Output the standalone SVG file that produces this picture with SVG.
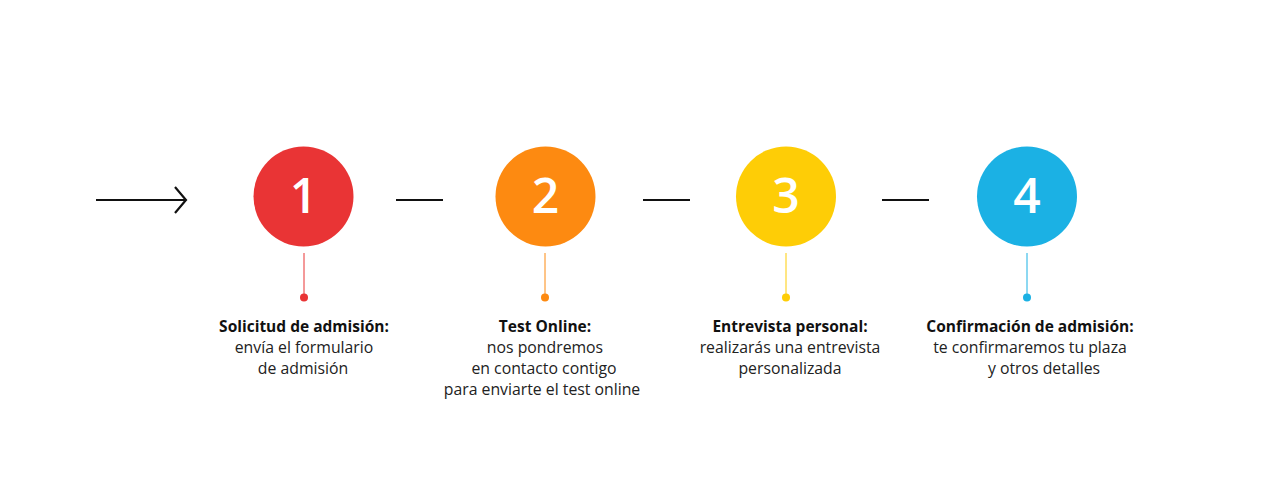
<svg xmlns="http://www.w3.org/2000/svg" width="1270" height="485" viewBox="0 0 1270 485">
<style>
.num{font-family:"Open Sans","Liberation Sans",sans-serif;font-weight:600;font-size:48px;fill:#fff;text-anchor:middle}
.t{font-family:"Open Sans","Liberation Sans",sans-serif;font-size:15.8px;fill:#222;text-anchor:middle}
.b{font-weight:700;font-size:15.5px;fill:#111}
.conn{stroke:#111;stroke-width:2.2;fill:none}
</style>
<rect width="1270" height="485" fill="#fff"/>
<g id="connectors">
<line class="conn" x1="96" y1="200" x2="186" y2="200"/>
<polyline class="conn" points="175,187 186,200 175,213" stroke-width="3.6"/>
<line class="conn" x1="396" y1="200" x2="443" y2="200"/>
<line class="conn" x1="643" y1="200" x2="690" y2="200"/>
<line class="conn" x1="882" y1="200" x2="929" y2="200"/>
</g>
<g id="step1">
<circle cx="303.5" cy="196.5" r="50" fill="#E93435"/>
<text class="num" x="303.5" y="213">1</text>
<line x1="304" y1="253" x2="304" y2="297" stroke="#E93435" stroke-width="1"/>
<circle cx="304" cy="297.5" r="4" fill="#E93435"/>
<text class="t b" x="304" y="332">Solicitud de admisión:</text>
<text class="t" x="304" y="353">envía el formulario</text>
<text class="t" x="303" y="374">de admisión</text>
</g>
<g id="step2">
<circle cx="545.5" cy="196.5" r="50" fill="#FD8A11"/>
<text class="num" x="545.5" y="213">2</text>
<line x1="545" y1="253" x2="545" y2="297" stroke="#FD8A11" stroke-width="1"/>
<circle cx="545" cy="297.5" r="4" fill="#FD8A11"/>
<text class="t b" x="545" y="332">Test Online:</text>
<text class="t" x="545" y="353">nos pondremos</text>
<text class="t" x="544" y="374">en contacto contigo</text>
<text class="t" x="542" y="395">para enviarte el test online</text>
</g>
<g id="step3">
<circle cx="786" cy="196.5" r="50" fill="#FECD06"/>
<text class="num" x="786" y="213">3</text>
<line x1="786" y1="253" x2="786" y2="297" stroke="#FECD06" stroke-width="1"/>
<circle cx="786" cy="297.5" r="4" fill="#FECD06"/>
<text class="t b" x="790" y="332">Entrevista personal:</text>
<text class="t" x="790" y="353">realizarás una entrevista</text>
<text class="t" x="790" y="374">personalizada</text>
</g>
<g id="step4">
<circle cx="1027" cy="196.5" r="50" fill="#1BB1E4"/>
<text class="num" x="1027" y="213">4</text>
<line x1="1027" y1="253" x2="1027" y2="297" stroke="#1BB1E4" stroke-width="1"/>
<circle cx="1027" cy="297.5" r="4" fill="#1BB1E4"/>
<text class="t b" x="1030" y="332">Confirmación de admisión:</text>
<text class="t" x="1030" y="353">te confirmaremos tu plaza</text>
<text class="t" x="1044" y="374">y otros detalles</text>
</g>
</svg>
